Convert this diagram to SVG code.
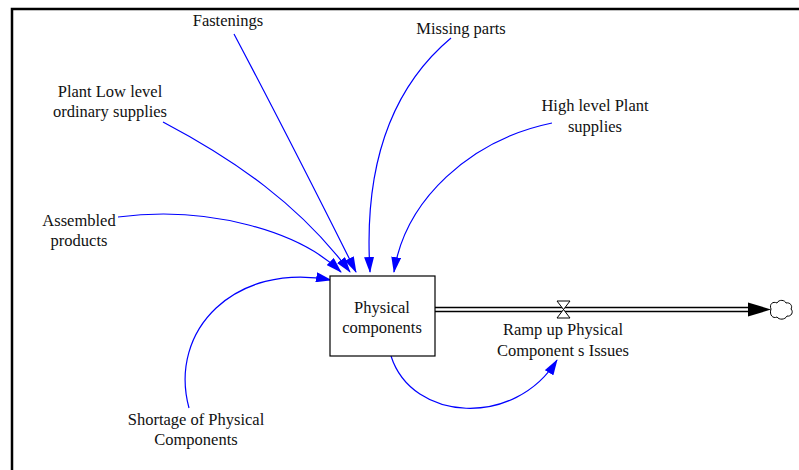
<svg xmlns="http://www.w3.org/2000/svg" width="799" height="470" viewBox="0 0 799 470">
<defs>
<style>
text{font-family:"Liberation Serif","Times New Roman",serif;font-size:16.5px;fill:#111;text-anchor:middle}
.lk{fill:none;stroke:#0000ff;stroke-width:1.2}
</style>
<marker id="ah" viewBox="0 0 16 10" refX="15" refY="5" markerWidth="16" markerHeight="10" markerUnits="userSpaceOnUse" orient="auto">
<path d="M0,0 L16,5 L0,10 Z" fill="#0000ff"/>
</marker>
</defs>
<rect width="799" height="470" fill="#fff"/>
<path d="M12,470 V9 H799" fill="none" stroke="#000" stroke-width="2.5"/>
<g id="connectors">
<path class="lk" d="M234,34 Q290,140 356,272" marker-end="url(#ah)"/>
<path class="lk" d="M451,38 C395,85 363,160 370,272" marker-end="url(#ah)"/>
<path class="lk" d="M163,122 C235,160 300,205 350,272" marker-end="url(#ah)"/>
<path class="lk" d="M552,123 C470,140 405,200 394,272" marker-end="url(#ah)"/>
<path class="lk" d="M118,217 C210,205 300,232 341,272" marker-end="url(#ah)"/>
<path class="lk" d="M189,408 C168,330 235,262 331,280" marker-end="url(#ah)"/>
<path class="lk" d="M391,356 C412,422 515,428 557,360" marker-end="url(#ah)"/>
<g id="flow">
<line x1="435" y1="309.5" x2="750" y2="309.5" stroke="#000" stroke-width="5.5"/>
<line x1="435" y1="309.5" x2="752" y2="309.5" stroke="#fff" stroke-width="2.5"/>
<path d="M748,302.5 L771,309.5 L748,316.5 Z" fill="#000"/>
<path d="M557,301 H570 L557,318 H570 Z" fill="#fff" stroke="#000" stroke-width="1"/>
</g>
</g>
<g id="cloud">
<path d="M771,309 C769,304 773,301 777,303 C779,299 785,300 786,303 C790,302 793,306 791,309 C794,312 791,317 787,316 C785,320 779,320 777,317 C773,319 769,315 771,309 Z" fill="#fff" stroke="#000" stroke-width="1"/>
</g>
<g id="physical">
<rect x="330" y="276" width="105" height="80" fill="#fff" stroke="#000" stroke-width="1.2"/>
<text x="382" y="313">Physical</text>
<text x="382" y="333">components</text>
</g>
<g id="fastenings"><text x="228" y="26">Fastenings</text></g>
<g id="missing"><text x="461" y="34">Missing parts</text></g>
<g id="plantlow"><text x="110" y="97">Plant Low level</text><text x="110" y="117">ordinary supplies</text></g>
<g id="highlevel"><text x="595" y="111">High level Plant</text><text x="595" y="132">supplies</text></g>
<g id="assembled"><text x="79" y="226">Assembled</text><text x="79" y="246">products</text></g>
<g id="ramp"><text x="563" y="335">Ramp up Physical</text><text x="563" y="356">Component s Issues</text></g>
<g id="shortage"><text x="196" y="425">Shortage of Physical</text><text x="196" y="445">Components</text></g>
</svg>
